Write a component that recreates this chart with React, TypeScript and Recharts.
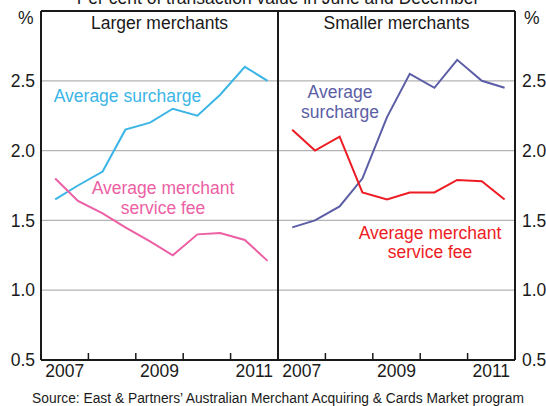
import { LineChart, Line, XAxis, YAxis, CartesianGrid, ReferenceLine } from 'recharts'

// survey dates (June / December), as decimal years
const periods = ['Jun 07', 'Dec 07', 'Jun 08', 'Dec 08', 'Jun 09', 'Dec 09', 'Jun 10', 'Dec 10', 'Jun 11', 'Dec 11']
const periodX = [2007.3, 2007.78, 2008.3, 2008.78, 2009.3, 2009.78, 2010.3, 2010.78, 2011.3, 2011.78]

const largerSurcharge = [1.65, 1.75, 1.85, 2.15, 2.2, 2.3, 2.25, 2.4, 2.6, 2.5]
const largerFee = [1.8, 1.64, 1.55, 1.45, 1.35, 1.25, 1.4, 1.41, 1.36, 1.21]
const smallerSurcharge = [1.45, 1.5, 1.6, 1.8, 2.24, 2.55, 2.45, 2.65, 2.5, 2.45]
const smallerFee = [2.15, 2.0, 2.1, 1.7, 1.65, 1.7, 1.7, 1.79, 1.78, 1.65]

const yTicks = [0.5, 1, 1.5, 2, 2.5]
const yearLabels = [2007, 2009, 2011]

const FONT = '"Liberation Sans", Arial, sans-serif'
const INK = '#1a1a1a'
const H = 406
const X_AXIS_H = 46
const PLOT_BOTTOM = H - X_AXIS_H

const YearTick = (props: any) => {
    const { x, payload } = props
    const v = payload.value
    if (Number.isInteger(v)) {
        return <line x1={x} x2={x} y1={PLOT_BOTTOM} y2={PLOT_BOTTOM - 7} stroke={INK} strokeWidth={1.5} />
    }
    const yr = Math.floor(v)
    if (!yearLabels.includes(yr)) return null
    return (
        <text x={x} y={PLOT_BOTTOM + 17} textAnchor="middle" fontSize={17.5} fill={INK} fontFamily={FONT}>
            {yr}
        </text>
    )
}

function Panel({ surcharge, fee, side, width, surchargeColor, feeColor }: any) {
    const data = periodX.map((x, i) => ({ x, period: periods[i], surcharge: surcharge[i], fee: fee[i] }))
    const isLeft = side === 'left'
    return (
        <LineChart width={width} height={H} data={data} margin={{ top: 11, right: 0, bottom: 0, left: 0 }}>
            <CartesianGrid vertical={false} stroke="#b3b3b3" strokeWidth={1.2} />
            <XAxis
                dataKey="x"
                type="number"
                domain={[2007, 2012]}
                ticks={[2007.5, 2008, 2009, 2009.5, 2010, 2011, 2011.5]}
                interval={0}
                tick={<YearTick />}
                tickLine={false}
                axisLine={false}
                tickSize={0}
                tickMargin={0}
                height={X_AXIS_H}
                allowDataOverflow
            />
            <YAxis
                type="number"
                orientation={isLeft ? 'left' : 'right'}
                width={isLeft ? 41 : 31}
                domain={[0.5, 3]}
                ticks={yTicks}
                interval={0}
                tickFormatter={(v: number) => v.toFixed(1)}
                tick={{ fontSize: 17.5, fill: INK, fontFamily: FONT }}
                axisLine={false}
                tickLine={false}
                tickSize={0}
                tickMargin={isLeft ? 6 : 7}
                allowDataOverflow
            />
            <Line dataKey="surcharge" stroke={surchargeColor} strokeWidth={2} dot={false} isAnimationActive={false} />
            <Line dataKey="fee" stroke={feeColor} strokeWidth={2} dot={false} isAnimationActive={false} />
            <ReferenceLine y={3} stroke={INK} strokeWidth={2} />
            <ReferenceLine y={0.5} stroke={INK} strokeWidth={2} />
            <ReferenceLine x={2007} stroke={INK} strokeWidth={2} />
            <ReferenceLine x={2012} stroke={INK} strokeWidth={2} />
        </LineChart>
    )
}

export default function App() {
    const t = { fontFamily: FONT, fontSize: 17.5 }
    return (
        <div style={{ position: 'absolute', left: 0, top: 0, width: 546, height: H, background: '#fff', overflow: 'hidden' }}>
            <div style={{ position: 'absolute', left: 0, top: 0 }}>
                <Panel side="left" width={278} surcharge={largerSurcharge} fee={largerFee} surchargeColor="#3bb5e6" feeColor="#ec5fa4" />
            </div>
            <div style={{ position: 'absolute', left: 278, top: 0 }}>
                <Panel side="right" width={268} surcharge={smallerSurcharge} fee={smallerFee} surchargeColor="#5b5ea6" feeColor="#ed1c24" />
            </div>
            <svg width={546} height={H} style={{ position: 'absolute', left: 0, top: 0, pointerEvents: 'none' }}>
                <g {...t} fill={INK}>
                    {/* the subtitle sits mostly above the picture's top edge, as in the original */}
                    <text x={278} y={4} textAnchor="middle">Per cent of transaction value in June and December</text>
                    <text x={18} y={24}>%</text>
                    <text x={524} y={24}>%</text>
                    <text x={159.5} y={29} textAnchor="middle">Larger merchants</text>
                    <text x={396.5} y={29} textAnchor="middle">Smaller merchants</text>
                </g>
                <g {...t} textAnchor="middle">
                    <text x={127.5} y={102} fill="#3bb5e6">Average surcharge</text>
                    <text x={163} y={194} fill="#ec5fa4">Average merchant</text>
                    <text x={163} y={214} fill="#ec5fa4">service fee</text>
                    <text x={340} y={98} fill="#5b5ea6">Average</text>
                    <text x={340} y={118} fill="#5b5ea6">surcharge</text>
                    <text x={430} y={239} fill="#ed1c24">Average merchant</text>
                    <text x={430} y={258} fill="#ed1c24">service fee</text>
                </g>
                <text x={278} y={403} textAnchor="middle" fontFamily={FONT} fontSize={13.8} fill={INK}>
                    Source: East &amp; Partners’ Australian Merchant Acquiring &amp; Cards Market program
                </text>
            </svg>
        </div>
    )
}
